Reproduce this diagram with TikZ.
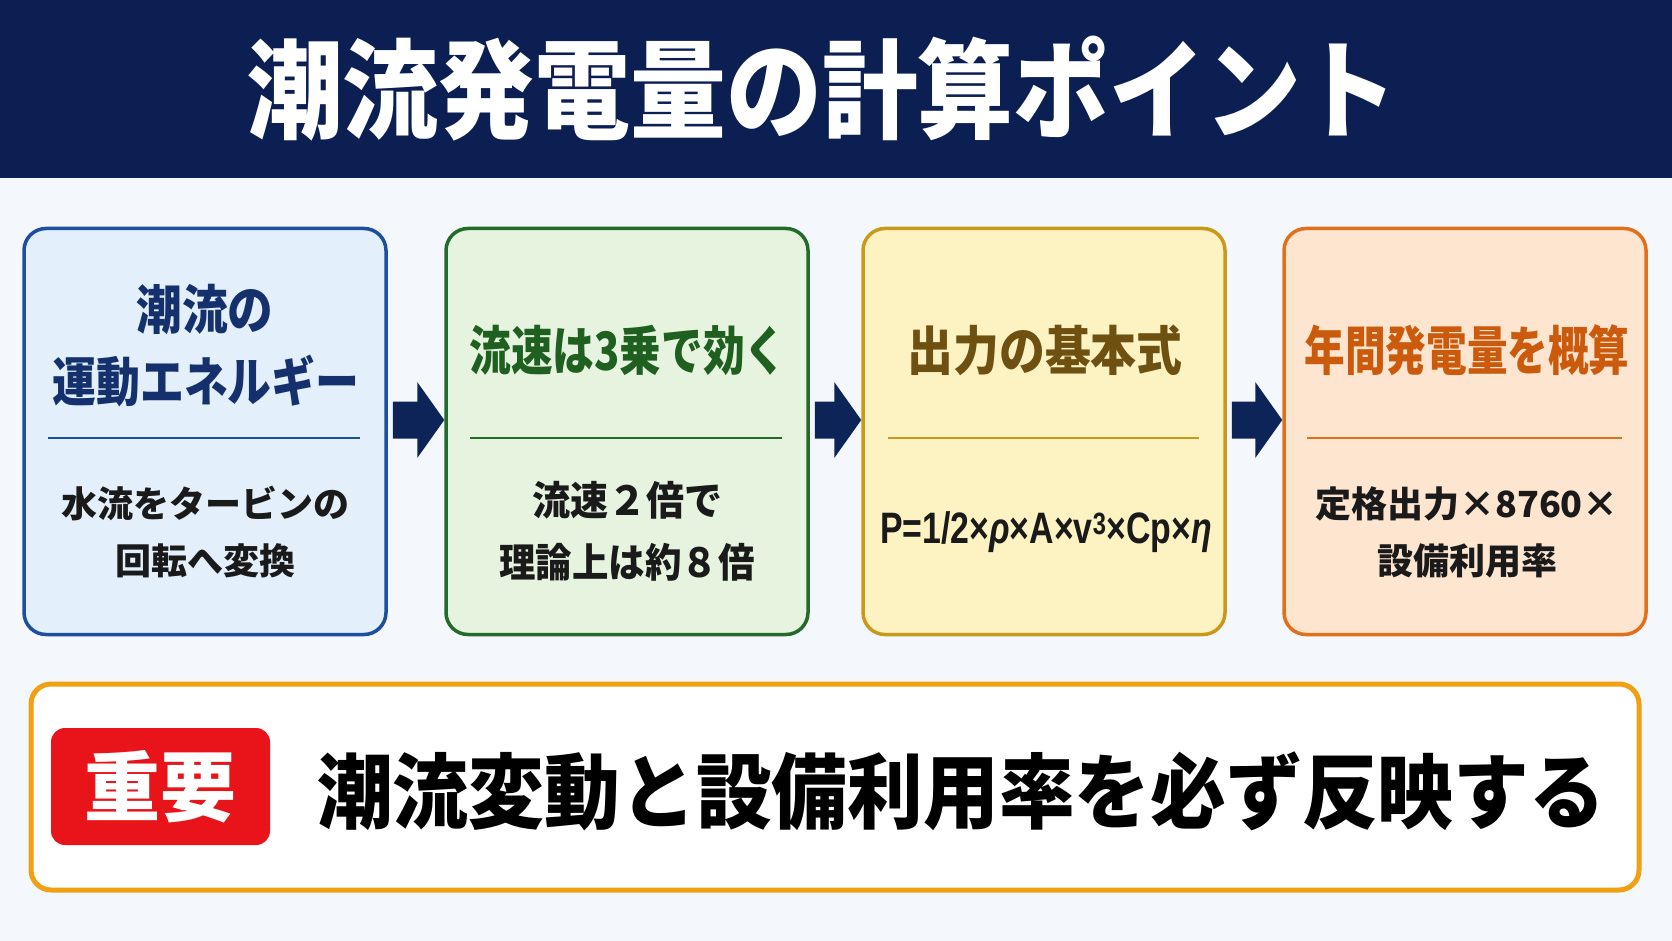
\documentclass[tikz,border=0pt]{standalone}
\usepackage{fontspec}
\usepackage{graphicx}
\setmainfont{Noto Sans CJK JP}
\newfontfamily\lat{Liberation Sans}
\usetikzlibrary{calc}
\newcommand\fitw[2]{\resizebox{#1}{\height}{#2}}
\definecolor{bgc}{HTML}{F4F7FC}
\definecolor{navy}{HTML}{0B1F52}
\definecolor{arrowc}{HTML}{0D2459}
\definecolor{bluefill}{HTML}{E3EFFB}
\definecolor{blueline}{HTML}{1C4F9E}
\definecolor{bluetext}{HTML}{14316E}
\definecolor{greenfill}{HTML}{E5F3DF}
\definecolor{greenline}{HTML}{236B2A}
\definecolor{greentext}{HTML}{1F5F1F}
\definecolor{yelfill}{HTML}{FDF2C2}
\definecolor{yelline}{HTML}{C99A1A}
\definecolor{yeltext}{HTML}{6E5010}
\definecolor{orfill}{HTML}{FDE5D0}
\definecolor{orline}{HTML}{E0711C}
\definecolor{ortext}{HTML}{CC5A0C}
\definecolor{bodytext}{HTML}{1A1A1A}
\definecolor{frameor}{HTML}{F0A010}
\definecolor{badgered}{HTML}{E8141A}
\tikzset{
  card/.style={draw, line width=3.5pt, rounded corners=22pt, minimum width=362pt, minimum height=406pt, inner sep=0pt},
  cardtitle/.style={inner sep=0pt, align=center, font=\bfseries\fontsize{53}{60}\selectfont},
  cardbody/.style={inner sep=0pt, align=center, text=bodytext, font=\bfseries\fontsize{36}{57}\selectfont},
  divider/.style={line width=2.5pt},
  flowarrow/.style={fill=arrowc},
}
\begin{document}
\begin{tikzpicture}[x=1pt,y=-1pt]
\fill[bgc] (0,0) rectangle (1672,941);
\fill[navy] (0,0) rectangle (1672,178);
\node[inner sep=0pt, text=white, font=\bfseries\fontsize{108}{112}\selectfont] (title) at (822,89) {\fitw{1150pt}{潮流発電量の計算ポイント}};

% cards
\node[card, draw=blueline, fill=bluefill] (b1) at (205,431.5) {};
\node[card, draw=greenline, fill=greenfill] (b2) at (627,431.5) {};
\node[card, draw=yelline, fill=yelfill] (b3) at (1044,431.5) {};
\node[card, draw=orline, fill=orfill] (b4) at (1465,431.5) {};

% card 1
\node[cardtitle, text=bluetext] (t1a) at (205,309) {\fitw{137pt}{潮流の}};
\node[cardtitle, text=bluetext] (t1b) at (206,381) {\fitw{307pt}{運動エネルギー}};
\coordinate (d1a) at (48,438); \coordinate (d1b) at (360,438);
\draw[divider, blueline] (d1a) -- (d1b);
\node[cardbody] (s1) at (205,532) {水流をタービンの\\回転へ変換};

% card 2
\node[cardtitle, text=greentext] (t2) at (628,350) {\fitw{317pt}{流速は3乗で効く}};
\coordinate (d2a) at (470,438); \coordinate (d2b) at (782,438);
\draw[divider, greenline] (d2a) -- (d2b);
\node[cardbody, font=\bfseries\fontsize{40}{62}\selectfont] (s2a) at (627,500) {\fitw{190pt}{流速２倍で}};
\node[cardbody, font=\bfseries\fontsize{40}{62}\selectfont] (s2b) at (627,562) {\fitw{255pt}{理論上は約８倍}};

% card 3
\node[cardtitle, text=yeltext] (t3) at (1045,350) {\fitw{275pt}{出力の基本式}};
\coordinate (d3a) at (888,438); \coordinate (d3b) at (1199,438);
\draw[divider, yelline] (d3a) -- (d3b);
\node[inner sep=0pt, text=bodytext] (s3) at (1046,532) {\scalebox{0.77}[1]{\lat\bfseries\fontsize{44}{50}\selectfont P=1/2×\textit{ρ}×A×v\textsuperscript{3}×Cp×\textit{η}}};

% card 4
\node[cardtitle, text=ortext] (t4) at (1467,350) {\fitw{325pt}{年間発電量を概算}};
\coordinate (d4a) at (1307,438); \coordinate (d4b) at (1622,438);
\draw[divider, orline] (d4a) -- (d4b);
\node[cardbody] (s4) at (1467,532) {定格出力×8760×\\設備利用率};

% arrows between cards
\foreach \s/\t in {b1/b2, b2/b3, b3/b4} {
  \path (\s.east) ++(5,-11.5) coordinate (as);
  \path (\t.west) ++(0,-11.5) coordinate (at);
  \fill[flowarrow] ($(as)+(0,-18.5)$) -- ($(at)+(-27,-18.5)$) -- ($(at)+(-27,-38)$) -- (at)
    -- ($(at)+(-27,38)$) -- ($(at)+(-27,18.5)$) -- ($(as)+(0,18.5)$) -- cycle;
}

% bottom panel
\node[draw=frameor, line width=5pt, fill=white, rounded corners=20pt, minimum width=1608pt, minimum height=206pt, inner sep=0pt] (panel) at (835,787) {};
\node[fill=badgered, rounded corners=14pt, minimum width=219pt, minimum height=117pt, inner sep=0pt] (badge) at (160.5,786.5) {};
\node[inner sep=0pt, text=white, font=\bfseries\fontsize{76}{80}\selectfont] (badgetext) at (badge.center) {重要};
\node[inner sep=0pt, anchor=west, text=black, font=\bfseries\fontsize{82}{86}\selectfont] (msg) at (317,791) {\fitw{1288pt}{潮流変動と設備利用率を必ず反映する}};
\end{tikzpicture}
\end{document}
